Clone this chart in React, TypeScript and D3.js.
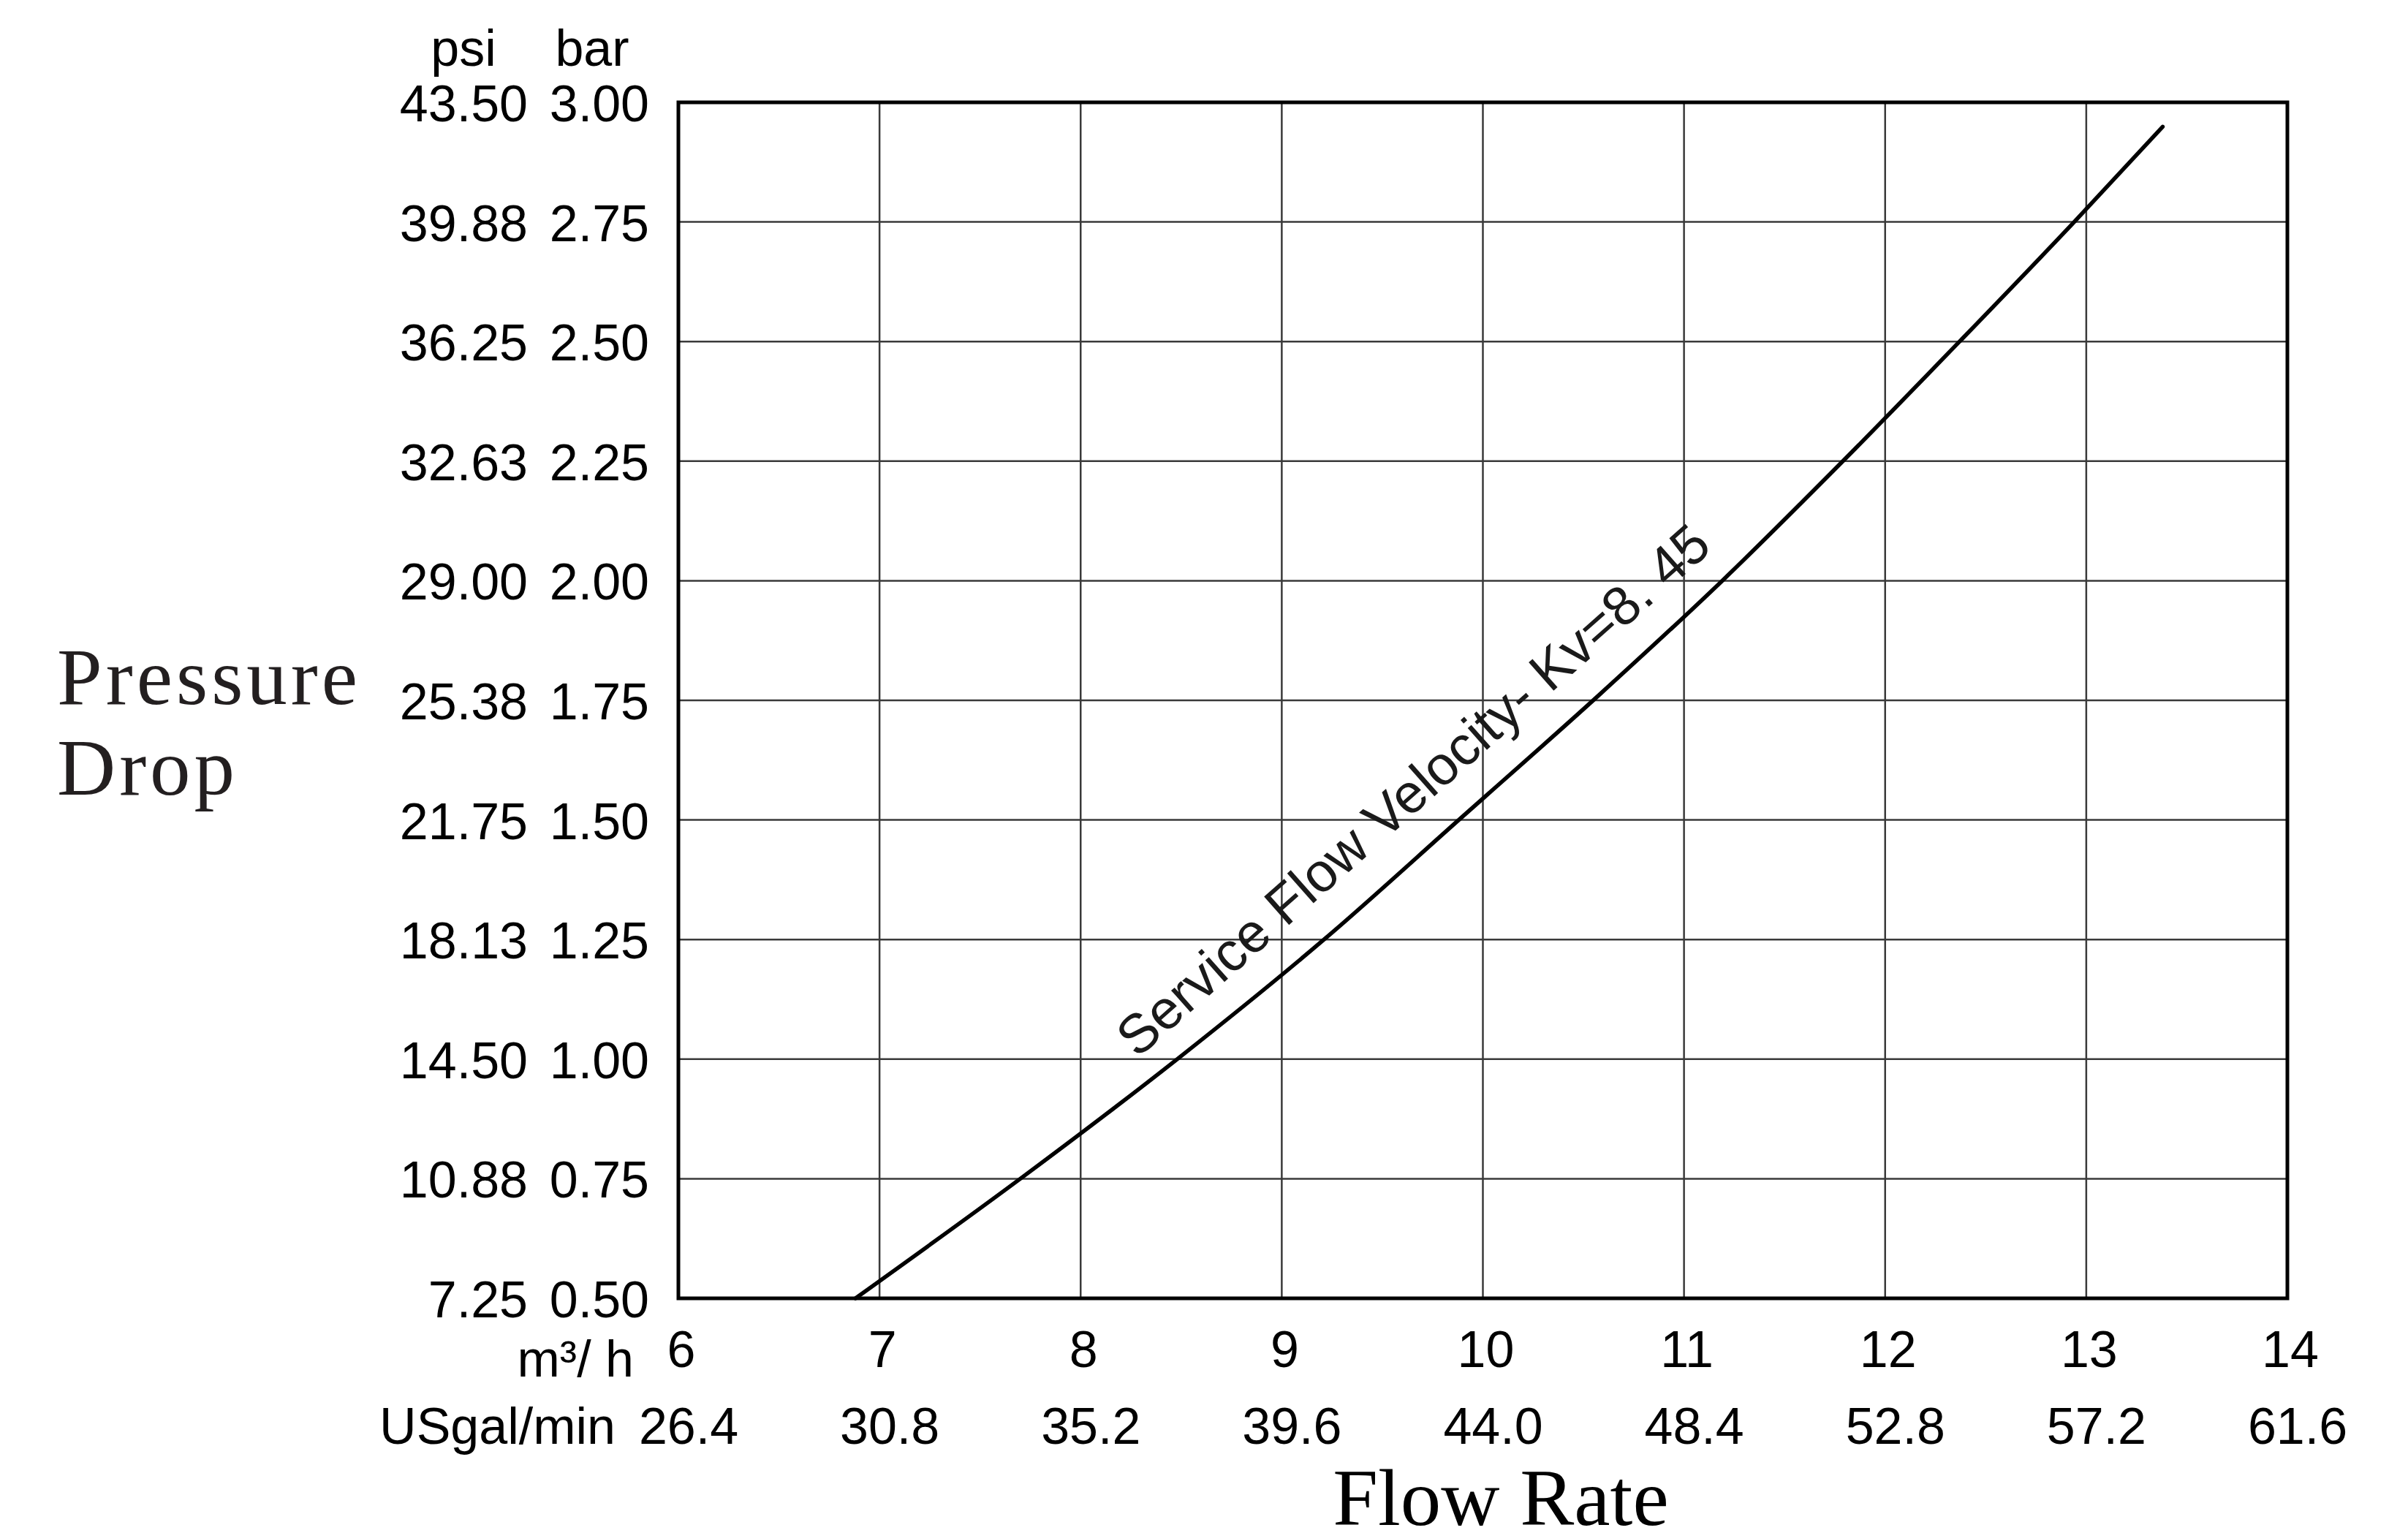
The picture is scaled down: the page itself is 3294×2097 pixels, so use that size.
import React from "react";
import * as d3 from "d3";

// ---- data ----
const FLOW_M3H = [6, 7, 8, 9, 10, 11, 12, 13, 14];
const FLOW_GPM = ["26.4", "30.8", "35.2", "39.6", "44.0", "48.4", "52.8", "57.2", "61.6"];
const BAR_TICKS = [0.5, 0.75, 1.0, 1.25, 1.5, 1.75, 2.0, 2.25, 2.5, 2.75, 3.0];
const BAR_LABELS = ["0.50", "0.75", "1.00", "1.25", "1.50", "1.75", "2.00", "2.25", "2.50", "2.75", "3.00"];
const PSI_LABELS = ["7.25", "10.88", "14.50", "18.13", "21.75", "25.38", "29.00", "32.63", "36.25", "39.88", "43.50"];

const CURVE_Q = [6.88, 7.7, 8.48, 9.21, 9.88, 10.58, 11.19, 11.79, 12.37, 12.94, 13.38];
const CURVE_BAR = [0.5, 0.75, 1.0, 1.25, 1.5, 1.762, 2.0, 2.25, 2.5, 2.75, 2.949];

const CURVE_LABEL = "Service Flow Velocity- Kv=8. 45";

const W = 3294;
const H = 2097;
const SANS = "'Liberation Sans', Arial, sans-serif";
const SERIF = "'Liberation Serif', 'Times New Roman', serif";

export default function App() {
  const x = d3.scaleLinear().domain([6, 14]).range([928, 3129]);
  const y = d3.scaleLinear().domain([0.5, 3]).range([1776, 140]);

  const pts: [number, number][] = CURVE_Q.map((q, i) => [q, CURVE_BAR[i]]);
  const line = d3
    .line<[number, number]>()
    .x((d) => x(d[0]))
    .y((d) => y(d[1]))
    .curve(d3.curveMonotoneX);

  const [x0, x1] = x.range();
  const [yb, yt] = y.range();

  return (
    <svg
      width={W}
      height={H}
      style={{ position: "absolute", left: 0, top: 0, background: "#fff" }}
    >
      <rect x={0} y={0} width={W} height={H} fill="#fff" />
      {/* grid */}
      {FLOW_M3H.slice(1, -1).map((q) => (
        <line key={"gx" + q} x1={x(q)} x2={x(q)} y1={yt} y2={yb} stroke="#3a3a3a" strokeWidth={2.5} />
      ))}
      {BAR_TICKS.slice(1, -1).map((b) => (
        <line key={"gy" + b} x1={x0} x2={x1} y1={y(b)} y2={y(b)} stroke="#3a3a3a" strokeWidth={2.5} />
      ))}
      {/* curve */}
      <path d={line(pts) || ""} fill="none" stroke="#000" strokeWidth={5.5} strokeLinecap="round" />
      {/* frame */}
      <rect x={x0} y={yt} width={x1 - x0} height={yb - yt} fill="none" stroke="#000" strokeWidth={5} />

      {/* curve label */}
      <text
        transform={`translate(1950,1100) rotate(-41.5)`}
        textAnchor="middle"
        fontFamily={SANS}
        fontSize={75}
        fill="#1a1a1a"
      >
        {CURVE_LABEL}
      </text>

      {/* y tick labels */}
      <text x={634} y={90} textAnchor="middle" fontFamily={SANS} fontSize={70} fill="#000">psi</text>
      <text x={810} y={90} textAnchor="middle" fontFamily={SANS} fontSize={70} fill="#000">bar</text>
      {BAR_TICKS.map((b, i) => (
        <g key={"yl" + b}>
          <text x={722} y={y(b) + 26} textAnchor="end" fontFamily={SANS} fontSize={70} fill="#000">
            {PSI_LABELS[i]}
          </text>
          <text x={888} y={y(b) + 26} textAnchor="end" fontFamily={SANS} fontSize={70} fill="#000">
            {BAR_LABELS[i]}
          </text>
        </g>
      ))}

      {/* x tick labels */}
      <text x={867} y={1883} textAnchor="end" fontFamily={SANS} fontSize={70} fill="#000">m³/ h</text>
      <text x={842} y={1975} textAnchor="end" fontFamily={SANS} fontSize={70} fill="#000">USgal/min</text>
      {FLOW_M3H.map((q, i) => (
        <g key={"xl" + q}>
          <text x={x(q) + 4} y={1870} textAnchor="middle" fontFamily={SANS} fontSize={70} fill="#000">
            {String(q)}
          </text>
          <text x={x(q) + 14} y={1975} textAnchor="middle" fontFamily={SANS} fontSize={70} fill="#000">
            {FLOW_GPM[i]}
          </text>
        </g>
      ))}

      {/* axis titles */}
      <text x={78} y={963} fontFamily={SERIF} fontSize={111} letterSpacing={5} fill="#231f20">Pressure</text>
      <text x={78} y={1087} fontFamily={SERIF} fontSize={111} letterSpacing={5} fill="#231f20">Drop</text>
      <text x={2053} y={2086} textAnchor="middle" fontFamily={SERIF} fontSize={111} fill="#000">Flow Rate</text>
    </svg>
  );
}
